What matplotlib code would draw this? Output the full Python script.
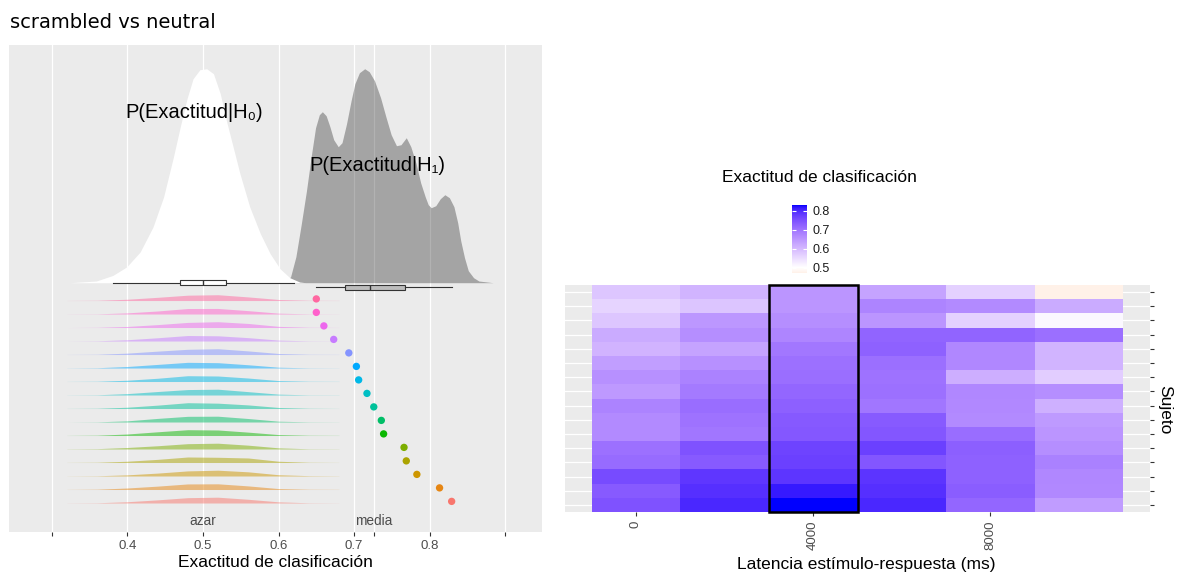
import numpy as np
import matplotlib
matplotlib.use('Agg')
import matplotlib.pyplot as plt
from matplotlib.colors import ListedColormap, Normalize
from matplotlib.cm import ScalarMappable
from matplotlib.patches import Rectangle

plt.rcParams['font.family'] = ['Liberation Sans', 'DejaVu Sans']

# ---- data ----
# per-subject accuracy (latency 4000), rows from top to bottom
subj_acc = [0.650, 0.650, 0.660, 0.673, 0.693, 0.703, 0.706, 0.717,
            0.726, 0.736, 0.739, 0.766, 0.769, 0.783, 0.813, 0.829]
azar = 0.5

# null distribution P(Exactitud|H0) (density heights, arbitrary units)
h0_x = [0.324, 0.359, 0.381, 0.399, 0.417, 0.434, 0.448, 0.461, 0.470, 0.479,
        0.487, 0.496, 0.505, 0.514, 0.523, 0.531, 0.540, 0.549, 0.562, 0.576,
        0.589, 0.602, 0.615, 0.628, 0.636]
h0_y = [0, 1.7, 7.3, 15.7, 30.7, 55.7, 85.7, 125.7, 155.7, 184,
        204, 213, 214, 209, 189, 162.3, 135.7, 109, 75.7, 49,
        29, 14, 5, 0.7, 0]
h0_box = dict(whislo=0.381, q1=0.470, med=0.500, q3=0.531, whishi=0.620)

# P(Exactitud|H1)
h1_x = [0.609, 0.616, 0.623, 0.630, 0.637, 0.643, 0.649, 0.654, 0.658, 0.663,
        0.668, 0.673, 0.679, 0.684, 0.690, 0.696, 0.701, 0.707, 0.714, 0.720,
        0.727, 0.735, 0.742, 0.749, 0.756, 0.762, 0.769, 0.775, 0.782, 0.788,
        0.794, 0.798, 0.802, 0.808, 0.814, 0.820, 0.826, 0.832, 0.837, 0.841,
        0.846, 0.851, 0.858, 0.865, 0.884]
h1_y = [0, 6, 26, 58, 92, 125, 155, 168, 171, 167,
        156, 143, 136, 140, 159, 182, 199, 210, 214, 211,
        202, 185, 166, 148, 137, 138, 145, 136, 119, 100,
        86, 78, 75, 77, 84, 88, 85, 76, 60, 42,
        25, 12, 5, 1.7, 0]

# per-subject null ridges (relative height, %), rows top to bottom
ridge_x = [0.32, 0.36, 0.40, 0.44, 0.48, 0.52, 0.56, 0.60, 0.64, 0.68]
ridge_h = [
    [1, 4, 22, 55, 92, 100, 62, 18, 4, 2],
    [1, 3, 20, 52, 95, 96, 58, 15, 3, 1],
    [0, 3, 18, 50, 88, 100, 70, 20, 4, 1],
    [0, 4, 22, 56, 95, 90, 58, 16, 3, 1],
    [1, 4, 24, 58, 90, 100, 62, 18, 4, 2],
    [1, 5, 26, 62, 98, 92, 56, 14, 3, 1],
    [1, 4, 22, 56, 100, 95, 60, 16, 4, 2],
    [1, 4, 24, 60, 94, 100, 58, 15, 3, 2],
    [1, 4, 22, 58, 100, 92, 62, 18, 4, 1],
    [0, 3, 20, 62, 98, 100, 60, 14, 3, 1],
    [1, 5, 26, 64, 100, 95, 58, 16, 4, 2],
    [2, 6, 26, 56, 92, 100, 66, 20, 4, 2],
    [1, 4, 22, 54, 95, 90, 78, 22, 4, 1],
    [1, 4, 20, 50, 88, 100, 72, 22, 6, 2],
    [1, 5, 26, 58, 96, 98, 62, 16, 4, 2],
    [1, 4, 22, 54, 92, 100, 64, 20, 4, 1],
]

# heatmap: accuracy per latency, rows top to bottom
latency = [0, 2000, 4000, 6000, 8000, 10000]
acc_0 = [0.580, 0.560, 0.580, 0.620, 0.607, 0.638, 0.657, 0.645,
         0.677, 0.665, 0.665, 0.703, 0.710, 0.755, 0.735, 0.745]
acc_2000 = [0.606, 0.582, 0.648, 0.660, 0.630, 0.657, 0.678, 0.690,
            0.708, 0.700, 0.695, 0.745, 0.735, 0.782, 0.790, 0.800]
acc_4000 = subj_acc
acc_6000 = [0.630, 0.675, 0.650, 0.720, 0.725, 0.705, 0.700, 0.703,
            0.695, 0.735, 0.740, 0.770, 0.740, 0.785, 0.790, 0.800]
acc_8000 = [0.565, 0.665, 0.565, 0.720, 0.670, 0.670, 0.615, 0.670,
            0.668, 0.665, 0.708, 0.728, 0.725, 0.725, 0.730, 0.718]
acc_10000 = [0.470, 0.620, 0.510, 0.705, 0.605, 0.605, 0.570, 0.660,
             0.612, 0.643, 0.650, 0.660, 0.680, 0.670, 0.668, 0.640]
highlight = 4000


# ---- colour helpers (ggplot hue palette, Lab gradient2) ----
M = np.array([[0.4124, 0.3576, 0.1805],
              [0.2126, 0.7152, 0.0722],
              [0.0193, 0.1192, 0.9505]])
Minv = np.linalg.inv(M)
WHITE = np.array([0.95047, 1.0, 1.08883])


def lin_to_srgb(lin):
    lin = np.clip(lin, 0, 1)
    return np.where(lin <= 0.0031308, 12.92 * lin, 1.055 * lin ** (1 / 2.4) - 0.055)


def hcl(h, c=100, l=65):
    hr = np.deg2rad(h)
    u, v = c * np.cos(hr), c * np.sin(hr)
    Y = ((l + 16) / 116) ** 3
    up = u / (13 * l) + 0.19784
    vp = v / (13 * l) + 0.46834
    X = Y * 9 * up / (4 * vp)
    Z = Y * (12 - 3 * up - 20 * vp) / (4 * vp)
    return lin_to_srgb(Minv @ np.array([X, Y, Z]))


def to_lab(hexcol):
    c = np.array(matplotlib.colors.to_rgb(hexcol))
    lin = np.where(c <= 0.04045, c / 12.92, ((c + 0.055) / 1.055) ** 2.4)
    xyz = (M @ lin) / WHITE
    f = np.where(xyz > 0.008856, np.cbrt(xyz), 7.787 * xyz + 16 / 116)
    return np.array([116 * f[1] - 16, 500 * (f[0] - f[1]), 200 * (f[1] - f[2])])


def from_lab(lab):
    fy = (lab[0] + 16) / 116
    f = np.array([fy + lab[1] / 500, fy, fy - lab[2] / 200])
    xyz = np.where(f ** 3 > 0.008856, f ** 3, (f - 16 / 116) / 7.787) * WHITE
    return lin_to_srgb(Minv @ xyz)


Z = np.array([acc_0, acc_2000, acc_4000, acc_6000, acc_8000, acc_10000]).T
vmin, vmax = Z.min(), Z.max()
lab_lo, lab_mid, lab_hi = to_lab('#CD6600'), to_lab('white'), to_lab('blue')
dev = max(vmax - 0.5, 0.5 - vmin)
cols = []
for v in np.linspace(vmin, vmax, 256):
    t = (v - 0.5) / dev
    end = lab_hi if t >= 0 else lab_lo
    cols.append(from_lab(lab_mid + abs(t) * (end - lab_mid)))
cmap = ListedColormap(cols)
norm = Normalize(vmin, vmax)

n = len(subj_acc)
row_cols = [hcl(15 + 360 / n * (n - 1 - k)) for k in range(n)]
row_y = np.arange(n, 0, -1)  # top row highest

fig = plt.figure(figsize=(11.77, 5.75), dpi=100)
W, H = 1177, 575

# ---- left panel ----
ax = fig.add_axes([8.5 / W, 1 - 531.7 / H, 533.2 / W, 486.7 / H])
ax.set_facecolor('#EBEBEB')
media = np.mean(subj_acc)
xt = [0.3, 0.4, 0.5, 0.6, 0.7, media, 0.8, 0.9]
for x in xt:
    ax.axvline(x, color='white', lw=0.9, zorder=0.5)
base = 17.32
dens_scale = 1 / 13.5   # density units -> row units
ax.fill_between(h1_x, base, base + np.array(h1_y) * dens_scale, color='black', alpha=0.3,
                lw=0, zorder=1)
ax.fill_between(h0_x, base, base + np.array(h0_y) * dens_scale, color='white', lw=0, zorder=2)
for k in range(n):
    hh = np.array(ridge_h[k]) / 100 * 0.43
    ax.fill_between(ridge_x, row_y[k], row_y[k] + hh, color=row_cols[k], alpha=0.5, lw=0,
                    zorder=2)
ax.scatter(subj_acc, row_y + 0.12, s=28, c=row_cols, zorder=4, linewidths=0)

ax.bxp([h0_box], positions=[base], orientation='horizontal', widths=0.39, patch_artist=True,
       showfliers=False, showcaps=False, manage_ticks=False,
       boxprops=dict(facecolor='white', edgecolor='#333333', lw=0.8),
       medianprops=dict(color='#333333', lw=1.0), whiskerprops=dict(color='#333333', lw=0.8),
       zorder=3)
ax.boxplot(subj_acc, positions=[16.98], orientation='horizontal', widths=0.39, patch_artist=True,
           showfliers=False, showcaps=False, manage_ticks=False,
           boxprops=dict(facecolor='#BDBDBD', edgecolor='#333333', lw=0.8),
           medianprops=dict(color='#333333', lw=1.0), whiskerprops=dict(color='#333333', lw=0.8),
           zorder=3)
ax.text(0.488, 29.96, 'P(Exactitud|H₀)', ha='center', va='center', fontsize=14.5, zorder=5)
ax.text(0.731, 26.04, 'P(Exactitud|H₁)', ha='center', va='center', fontsize=14.5, zorder=5)
ax.text(azar, -0.33, 'azar', ha='center', va='center', fontsize=9.8, color='#4D4D4D')
ax.text(media, -0.33, 'media', ha='center', va='center', fontsize=9.8, color='#4D4D4D')
ax.set_xticks(xt)
ax.set_xticklabels(['', '0.4', '0.5', '0.6', '0.7', '', '0.8', ''])
ax.set_yticks([])
ax.set_xlim(0.2429, 0.9481)
ax.set_ylim(-1.126, 34.93)
for s in ax.spines.values():
    s.set_visible(False)
ax.tick_params(axis='x', length=3, color='#333333', labelcolor='#4D4D4D', labelsize=9.5, pad=3)
ax.set_xlabel('Exactitud de clasificación', fontsize=12.5, labelpad=2)

fig.text(10 / W, 1 - 22 / H, 'scrambled vs neutral', family='DejaVu Sans', fontsize=14,
         ha='left', va='center')

# ---- right panel ----
ax2 = fig.add_axes([565 / W, 1 - 512 / H, 585 / W, 227 / H])
ax2.set_facecolor('#EBEBEB')
for i in range(n):
    ax2.axhline(i + 0.5, color='white', lw=0.9, zorder=0)
for x in [0, 4000, 8000]:
    ax2.axvline(x, color='white', lw=0.9, zorder=0)
xe = np.append(np.array(latency) - 1000, latency[-1] + 1000)
ax2.pcolormesh(xe, np.arange(n + 1), Z, cmap=cmap, norm=norm, zorder=1)
ax2.add_patch(Rectangle((highlight - 1000, 0), 2000, n, fill=False, ec='black', lw=1.8,
                        zorder=3, clip_on=False))
ax2.set_xlim(-1600, 11600)
ax2.set_ylim(n, 0)
ax2.set_xticks([0, 4000, 8000])
ax2.set_xticklabels(['0', '4000', '8000'], rotation=90)
ax2.set_yticks(np.arange(n) + 0.5)
ax2.set_yticklabels([])
ax2.yaxis.tick_right()
for s in ax2.spines.values():
    s.set_visible(False)
ax2.tick_params(length=3, color='#333333', labelcolor='#4D4D4D', labelsize=9.5, pad=3)
fig.text(866 / W, 1 - 564 / H, 'Latencia estímulo-respuesta (ms)', fontsize=12.5,
         ha='center', va='center')
fig.text(1165 / W, 1 - 410 / H, 'Sujeto', fontsize=12.5, rotation=270, ha='center', va='center')

# colour bar
cax = fig.add_axes([792 / W, 1 - 273.3 / H, 15 / W, 68.3 / H])
cb = fig.colorbar(ScalarMappable(norm=norm, cmap=cmap), cax=cax, ticks=[0.5, 0.6, 0.7, 0.8])
cb.outline.set_visible(False)
cax.tick_params(direction='in', color='white', length=3, width=0.8, left=True, right=True,
                labelsize=9, labelcolor='#1A1A1A', pad=4)
fig.text(819 / W, 1 - 177 / H, 'Exactitud de clasificación', fontsize=12.5, ha='center',
         va='center')

fig.savefig('out.png', dpi=100)
